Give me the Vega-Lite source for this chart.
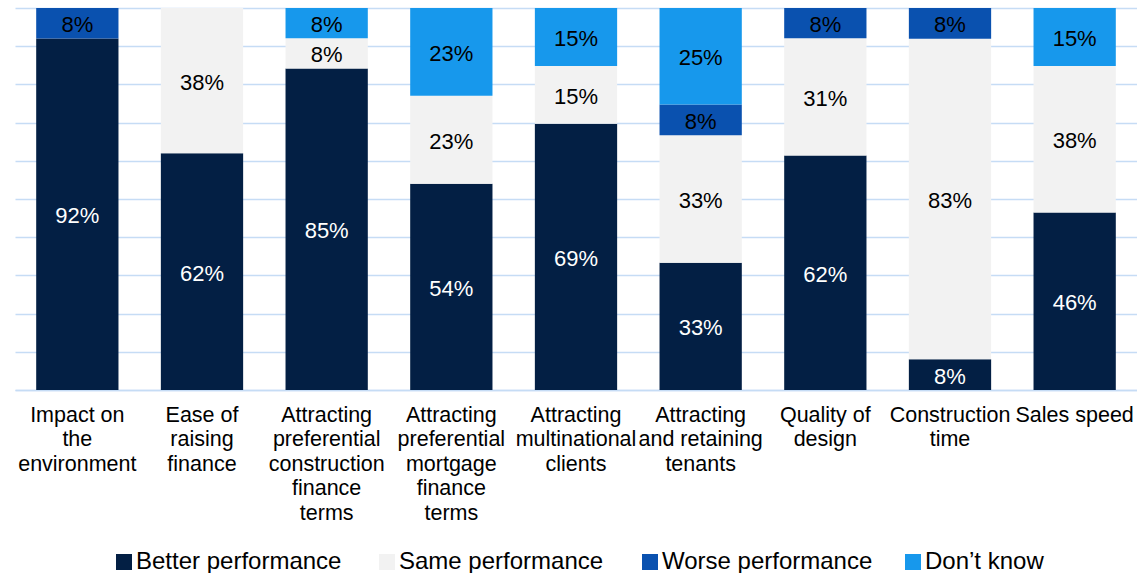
{
  "$schema": "https://vega.github.io/schema/vega-lite/v6.json",
  "autosize": {"type": "none"},
  "width": 1122,
  "height": 382,
  "padding": {"left": 15, "top": 8, "right": 0, "bottom": 183},
  "background": "white",
  "config": {
    "view": {"stroke": null},
    "font": "Liberation Sans",
    "text": {"font": "Liberation Sans"}
  },
  "data": {
    "values": [
      {"cat": "Impact on the environment", "series": "Better performance", "rank": 1, "value": 0.92},
      {"cat": "Impact on the environment", "series": "Worse performance", "rank": 3, "value": 0.08},
      {"cat": "Ease of raising finance", "series": "Better performance", "rank": 1, "value": 0.62},
      {"cat": "Ease of raising finance", "series": "Same performance", "rank": 2, "value": 0.38},
      {"cat": "Attracting preferential construction finance terms", "series": "Better performance", "rank": 1, "value": 0.85},
      {"cat": "Attracting preferential construction finance terms", "series": "Same performance", "rank": 2, "value": 0.08},
      {"cat": "Attracting preferential construction finance terms", "series": "Don’t know", "rank": 4, "value": 0.08},
      {"cat": "Attracting preferential mortgage finance terms", "series": "Better performance", "rank": 1, "value": 0.54},
      {"cat": "Attracting preferential mortgage finance terms", "series": "Same performance", "rank": 2, "value": 0.23},
      {"cat": "Attracting preferential mortgage finance terms", "series": "Don’t know", "rank": 4, "value": 0.23},
      {"cat": "Attracting multinational clients", "series": "Better performance", "rank": 1, "value": 0.69},
      {"cat": "Attracting multinational clients", "series": "Same performance", "rank": 2, "value": 0.15},
      {"cat": "Attracting multinational clients", "series": "Don’t know", "rank": 4, "value": 0.15},
      {"cat": "Attracting and retaining tenants", "series": "Better performance", "rank": 1, "value": 0.33},
      {"cat": "Attracting and retaining tenants", "series": "Same performance", "rank": 2, "value": 0.33},
      {"cat": "Attracting and retaining tenants", "series": "Worse performance", "rank": 3, "value": 0.08},
      {"cat": "Attracting and retaining tenants", "series": "Don’t know", "rank": 4, "value": 0.25},
      {"cat": "Quality of design", "series": "Better performance", "rank": 1, "value": 0.62},
      {"cat": "Quality of design", "series": "Same performance", "rank": 2, "value": 0.31},
      {"cat": "Quality of design", "series": "Worse performance", "rank": 3, "value": 0.08},
      {"cat": "Construction time", "series": "Better performance", "rank": 1, "value": 0.08},
      {"cat": "Construction time", "series": "Same performance", "rank": 2, "value": 0.83},
      {"cat": "Construction time", "series": "Worse performance", "rank": 3, "value": 0.08},
      {"cat": "Sales speed", "series": "Better performance", "rank": 1, "value": 0.46},
      {"cat": "Sales speed", "series": "Same performance", "rank": 2, "value": 0.38},
      {"cat": "Sales speed", "series": "Don’t know", "rank": 4, "value": 0.15}
    ]
  },
  "encoding": {
    "x": {
      "field": "cat",
      "type": "nominal",
      "sort": null,
      "scale": {"paddingInner": 0.34, "paddingOuter": 0.17},
      "axis": {
        "title": null,
        "labelAngle": 0,
        "labelFontSize": 21.5,
        "labelColor": "#000000",
        "labelFont": "Liberation Sans",
        "labelLineHeight": 24.5,
        "labelPadding": 14,
        "labelLimit": 300,
        "tickSize": 0,
        "ticks": false,
        "domainColor": "#C6DCF5",
        "domainWidth": 1.5,
        "labelExpr": "{'Impact on the environment': ['Impact on','the','environment'], 'Ease of raising finance': ['Ease of','raising','finance'], 'Attracting preferential construction finance terms': ['Attracting','preferential','construction','finance','terms'], 'Attracting preferential mortgage finance terms': ['Attracting','preferential','mortgage','finance','terms'], 'Attracting multinational clients': ['Attracting','multinational','clients'], 'Attracting and retaining tenants': ['Attracting','and retaining','tenants'], 'Quality of design': ['Quality of','design'], 'Construction time': ['Construction','time'], 'Sales speed': ['Sales speed']}[datum.label]"
      }
    }
  },
  "layer": [
    {
      "mark": {"type": "bar"},
      "encoding": {
        "y": {
          "field": "value",
          "type": "quantitative",
          "stack": "normalize",
          "scale": {"domain": [0, 1], "nice": false},
          "axis": {
            "title": null,
            "labels": false,
            "ticks": false,
            "domain": false,
            "grid": true,
            "gridColor": "#C6DCF5",
            "gridWidth": 1.5,
            "values": [0, 0.1, 0.2, 0.3, 0.4, 0.5, 0.6, 0.7, 0.8, 0.9, 1]
          }
        },
        "color": {
          "field": "series",
          "type": "nominal",
          "scale": {
            "domain": ["Better performance", "Same performance", "Worse performance", "Don’t know"],
            "range": ["#031F44", "#F2F2F2", "#0A51AF", "#1798EC"]
          },
          "legend": {
            "title": null,
            "orient": "none",
            "direction": "horizontal",
            "legendX": 97,
            "legendY": 542,
            "padding": 0,
            "symbolType": "square",
            "symbolSize": 256,
            "symbolStrokeWidth": 0,
            "symbolOpacity": 1,
            "labelFontSize": 24,
            "labelFont": "Liberation Sans",
            "labelColor": "#000000",
            "labelOffset": 0,
            "labelLimit": 400,
            "columnPadding": 28,
            "gridAlign": "all",
            "columns": 4
          }
        },
        "order": {"field": "rank", "type": "quantitative"}
      }
    },
    {
      "mark": {"type": "text", "fontSize": 22, "font": "Liberation Sans", "baseline": "middle", "align": "center", "dy": 2},
      "encoding": {
        "y": {
          "field": "value",
          "type": "quantitative",
          "stack": "normalize",
          "bandPosition": 0.5,
          "axis": {
            "title": null,
            "labels": false,
            "ticks": false,
            "domain": false,
            "grid": true,
            "gridColor": "#C6DCF5",
            "gridWidth": 1.5,
            "values": [0, 0.1, 0.2, 0.3, 0.4, 0.5, 0.6, 0.7, 0.8, 0.9, 1]
          }
        },
        "detail": {"field": "series"},
        "order": {"field": "rank", "type": "quantitative"},
        "text": {"field": "value", "type": "quantitative", "format": ".0%"},
        "color": {
          "condition": {"test": "datum.series === 'Better performance'", "value": "#FFFFFF"},
          "value": "#000000"
        }
      }
    }
  ]
}
